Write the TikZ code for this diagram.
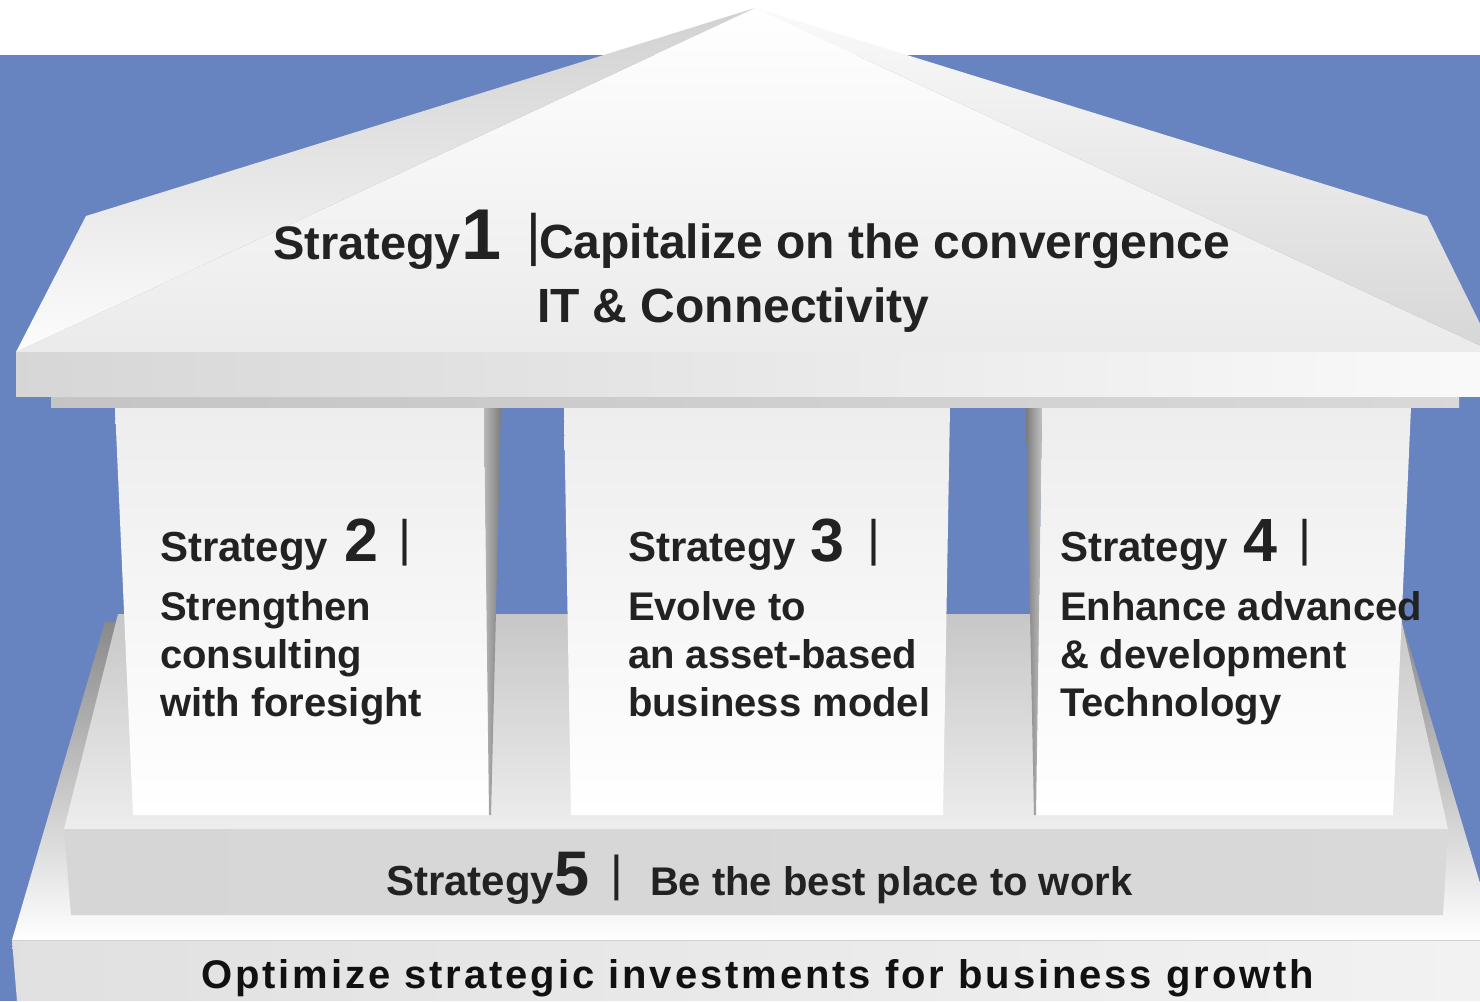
\documentclass[tikz,border=0pt]{standalone}
\usepackage{fontspec}
\setmainfont{Liberation Sans}
\newfontfamily\spaced{Liberation Sans}[LetterSpace=7.3]
\usetikzlibrary{calc}
\definecolor{bgblue}{HTML}{6784C0}
\definecolor{txt}{HTML}{222222}
\definecolor{txtb}{HTML}{111111}
\newcommand\fsz[1]{\fontsize{#1}{#1}\selectfont}
\tikzset{
  lbl/.style={anchor=base west, inner sep=0pt, outer sep=0pt, text=txt, font=\bfseries},
  barlbl/.style={anchor=base west, inner sep=0pt, outer sep=0pt, text=txt, font=\mdseries},
  pillarface/.style={top color=white!93!black, bottom color=white},
}
\begin{document}
\begin{tikzpicture}[x=1pt,y=-1pt]
\useasboundingbox (0,0) rectangle (1480,1001);
\clip (0,0) rectangle (1480,1001);
% backgrounds
\fill[white] (0,0) rectangle (1480,1001);
\fill[bgblue] (0,55) rectangle (1480,1001);

% base top surface
\shade[top color=white!54!black, middle color=white!86!black, bottom color=white]
  (105,622) -- (1402,622) -- (1497,940) -- (12,940) -- cycle;
% step top surface
\shade[top color=white!78!black, middle color=white!61!black, bottom color=white!93!black]
  (118,614) -- (1400,614) -- (1448,829) -- (64,829) -- cycle;
% step front face
\shade[left color=white!84!black, middle color=white!95!black, right color=white!85!black]
  (64,829) -- (1448,829) -- (1443,915) -- (71,915) -- cycle;
% base front face
\shade[left color=white!88!black, right color=white!95!black]
  (12,940) -- (1497,940) -- (1497,1001) -- (17,1001) -- cycle;
\draw[white!82!black, line width=1pt] (12,940.5) -- (1497,940.5);

% pillars
\shade[pillarface] (115,407) -- (484,407) -- (490,815) -- (133,815) -- cycle;
\shade[left color=white!72!black, right color=white!49!black]
  (484,407) -- (501,407) -- (491,815) -- (489,815) -- cycle;
\shade[pillarface] (564,407) -- (950,407) -- (943,815) -- (571,815) -- cycle;
\shade[pillarface] (1042,407) -- (1411,407) -- (1393,815) -- (1036,815) -- cycle;
\shade[left color=white!49!black, right color=white!76!black]
  (1026,407) -- (1042,407) -- (1036,815) -- (1034,815) -- cycle;

% entablature
\shade[left color=white!77!black, right color=white!85!black]
  (51,396) rectangle (1459,407);
\shade[left color=white!84!black, right color=white!98!black]
  (16,352) rectangle (1497,396);

% roof
\shade[top color=white, bottom color=white!92!black]
  (755,8) -- (1494,352) -- (16,352) -- cycle;
\shade[shading angle=-40, top color=white!82!black, bottom color=white!99!black]
  (755,8) -- (86,216) -- (16,352) -- cycle;
\shade[shading angle=60, top color=white!98!black, bottom color=white!84!black]
  (755,8) -- (1427,216) -- (1494,352) -- cycle;

% ---- texts ----
% Strategy 1
\node[lbl] (s1) at (273,259) {\fsz{47}Strategy\fsz{72}1};
\node[barlbl] (s1bar) at (526,254) {\fsz{57}|};
\node[lbl] (s1a) at (539,258) {\fsz{48}Capitalize on the convergence};
\node[lbl] (s1b) at (537,322) {\fsz{48}IT \& Connectivity};

% Strategy 2
\node[lbl] (s2) at (160,561) {\fsz{42}Strategy};
\node[lbl] (s2n) at (344,561) {\fsz{61}2};
\node[barlbl] (s2bar) at (398.5,555.5) {\fsz{50}|};
\node[lbl] (s2a) at (160,620) {\fsz{40}Strengthen};
\node[lbl] (s2b) at (160,668) {\fsz{40}consulting};
\node[lbl] (s2c) at (160,716) {\fsz{40}with foresight};

% Strategy 3
\node[lbl] (s3) at (628,561) {\fsz{42}Strategy};
\node[lbl] (s3n) at (810.5,561) {\fsz{61}3};
\node[barlbl] (s3bar) at (867.5,555.5) {\fsz{50}|};
\node[lbl] (s3a) at (628,620) {\fsz{40}Evolve to};
\node[lbl] (s3b) at (628,668) {\fsz{40}an asset-based};
\node[lbl] (s3c) at (628,716) {\fsz{40}business model};

% Strategy 4
\node[lbl] (s4) at (1060,561) {\fsz{42}Strategy};
\node[lbl] (s4n) at (1243.5,561) {\fsz{61}4};
\node[barlbl] (s4bar) at (1298.5,555.5) {\fsz{50}|};
\node[lbl] (s4a) at (1060,620) {\fsz{40}Enhance advanced};
\node[lbl] (s4b) at (1060,668) {\fsz{40}\& development};
\node[lbl] (s4c) at (1060,716) {\fsz{40}Technology};

% Strategy 5
\node[lbl] (s5) at (386,895) {\fsz{42}Strategy};
\node[lbl] (s5n) at (554.5,895) {\fsz{63}5};
\node[barlbl] (s5bar) at (610.4,890.7) {\fsz{49}|};
\node[lbl] (s5a) at (650,895) {\fsz{40}Be the best place to work};

% foundation
\node[lbl, text=txtb] (base) at (201,988) {\spaced\bfseries\fsz{40}Optimize strategic investments for business growth};
\end{tikzpicture}
\end{document}
